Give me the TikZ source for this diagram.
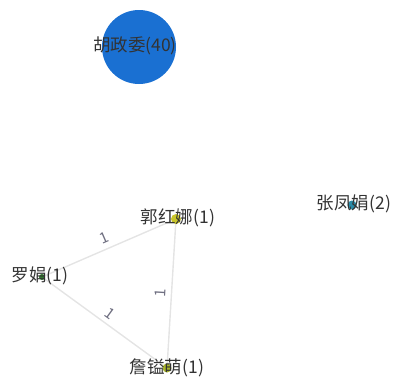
\documentclass[tikz,border=0pt]{standalone}
\usepackage{fontspec}
\setmainfont{Noto Sans CJK SC}
\definecolor{bigblue}{HTML}{1A70D2}
\definecolor{guocol}{HTML}{C9C52A}
\definecolor{luocol}{HTML}{2F7A2C}
\definecolor{zhancol}{HTML}{A9B52C}
\definecolor{zhangcol}{HTML}{2A8BA8}
\definecolor{labelgray}{HTML}{333333}
\definecolor{linkgray}{HTML}{E4E4E4}
\definecolor{wtgray}{HTML}{6E6E80}

\begin{document}
\begin{tikzpicture}[x=1pt,y=-1pt,
  dot/.style={circle,inner sep=0pt,minimum size=#1},
  lbl/.style={text=labelgray,font=\fontsize{17.5}{17.5}\selectfont,inner sep=0pt},
  link/.style={draw=linkgray,line width=1.4pt},
  wt/.style={text=wtgray,font=\fontsize{15}{15}\selectfont\itshape,sloped,above=4pt,inner sep=1pt}]
\useasboundingbox (0,0) rectangle (398,381);

% links
\node[dot=10pt] (guo) at (176,219) {};
\node[dot=6pt] (luo) at (42,277) {};
\node[dot=9pt] (zhan) at (167,368) {};
\draw[link] (luo) -- node[wt]{1} (guo);
\draw[link] (luo) -- node[wt]{1} (zhan);
\draw[link] (guo) -- node[wt]{1} (zhan);

% nodes
\node[dot=74pt,fill=bigblue] (hu) at (139,47) {};
\node[dot=10pt,fill=guocol] at (guo) {};
\node[dot=6pt,fill=luocol] at (luo) {};
\node[dot=9pt,fill=zhancol] at (zhan) {};
\node[dot=9pt,fill=zhangcol] (zhang) at (352,205) {};

% labels
\node[lbl] (hu-l) at (135,46) {胡政委(40)};
\node[lbl] (guo-l) at (178,218) {郭红娜(1)};
\node[lbl] (luo-l) at (40,276) {罗娟(1)};
\node[lbl] (zhan-l) at (167,368) {詹镒萌(1)};
\node[lbl] (zhang-l) at (354,204) {张凤娟(2)};
\end{tikzpicture}
\end{document}
